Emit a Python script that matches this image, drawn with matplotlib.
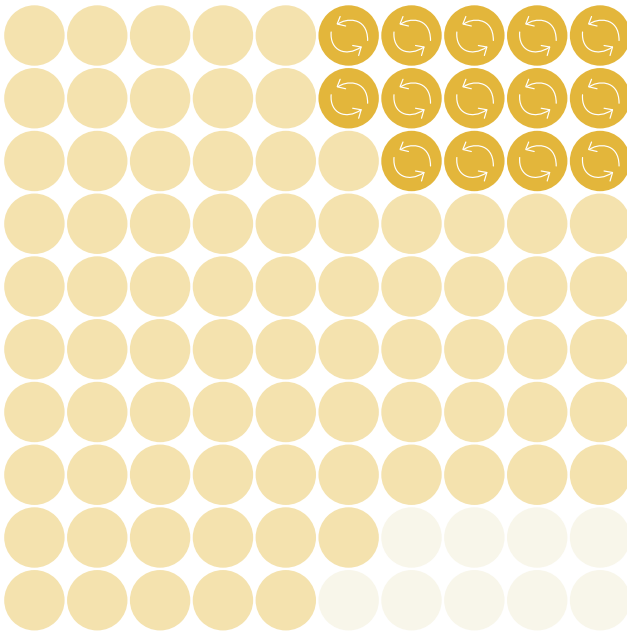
from matplotlib import pyplot as plt
from matplotlib.patches import Circle, PathPatch
from matplotlib.path import Path

# dots per row, counted from the right hand side
dark_per_row = [5, 5, 4, 0, 0, 0, 0, 0, 0, 0]
faint_per_row = [0, 0, 0, 0, 0, 0, 0, 0, 4, 5]
n_cols = 10

dark_color = '#E3B63B'
light_color = '#F4E2AE'
faint_color = '#F8F6EA'


def draw_icon(ax, cx, cy):
	'''Draw the two white recycle arrows on a dark dot.'''
	top_arc = [(-10.5, -11.5), (-4, -17), (19, -20), (19, 5)]
	top_head = [(-8.5, -19), (-11.5, -11.5), (-3, -9.5)]
	low_arc = [(-17.5, -3.5), (-19, 15), (-3, 22), (12.5, 11.5)]
	low_head = [(4, 10), (12.5, 11.5), (10, 20)]
	arc_codes = [Path.MOVETO, Path.CURVE4, Path.CURVE4, Path.CURVE4]
	head_codes = [Path.MOVETO, Path.LINETO, Path.LINETO]
	shapes = [(top_arc, arc_codes), (top_head, head_codes),
		(low_arc, arc_codes), (low_head, head_codes)]
	for verts, codes in shapes:
		moved = [(cx + x, cy + y) for x, y in verts]
		ax.add_patch(PathPatch(Path(moved, codes), facecolor='none',
			edgecolor='white', linewidth=0.85, capstyle='round', joinstyle='miter'))


def main():
	fig = plt.figure(figsize=(6.27, 6.33), dpi=100)
	ax = fig.add_axes([0, 0, 1, 1])
	ax.set_xlim(0, 627)
	ax.set_ylim(633, 0)
	ax.axis('off')

	x0, y0 = 34.4, 35.5
	step_x, step_y = 62.85, 62.75
	radius = 30.2

	for row in range(len(dark_per_row)):
		for col in range(n_cols):
			from_right = n_cols - 1 - col
			cx = x0 + col * step_x
			cy = y0 + row * step_y
			is_dark = from_right < dark_per_row[row]
			if is_dark:
				color = dark_color
			elif from_right < faint_per_row[row]:
				color = faint_color
			else:
				color = light_color
			ax.add_patch(Circle((cx, cy), radius, facecolor=color, edgecolor='none'))
			if is_dark:
				draw_icon(ax, cx, cy)

	plt.savefig('out.png', dpi=100)


if __name__ == '__main__':
	main()
